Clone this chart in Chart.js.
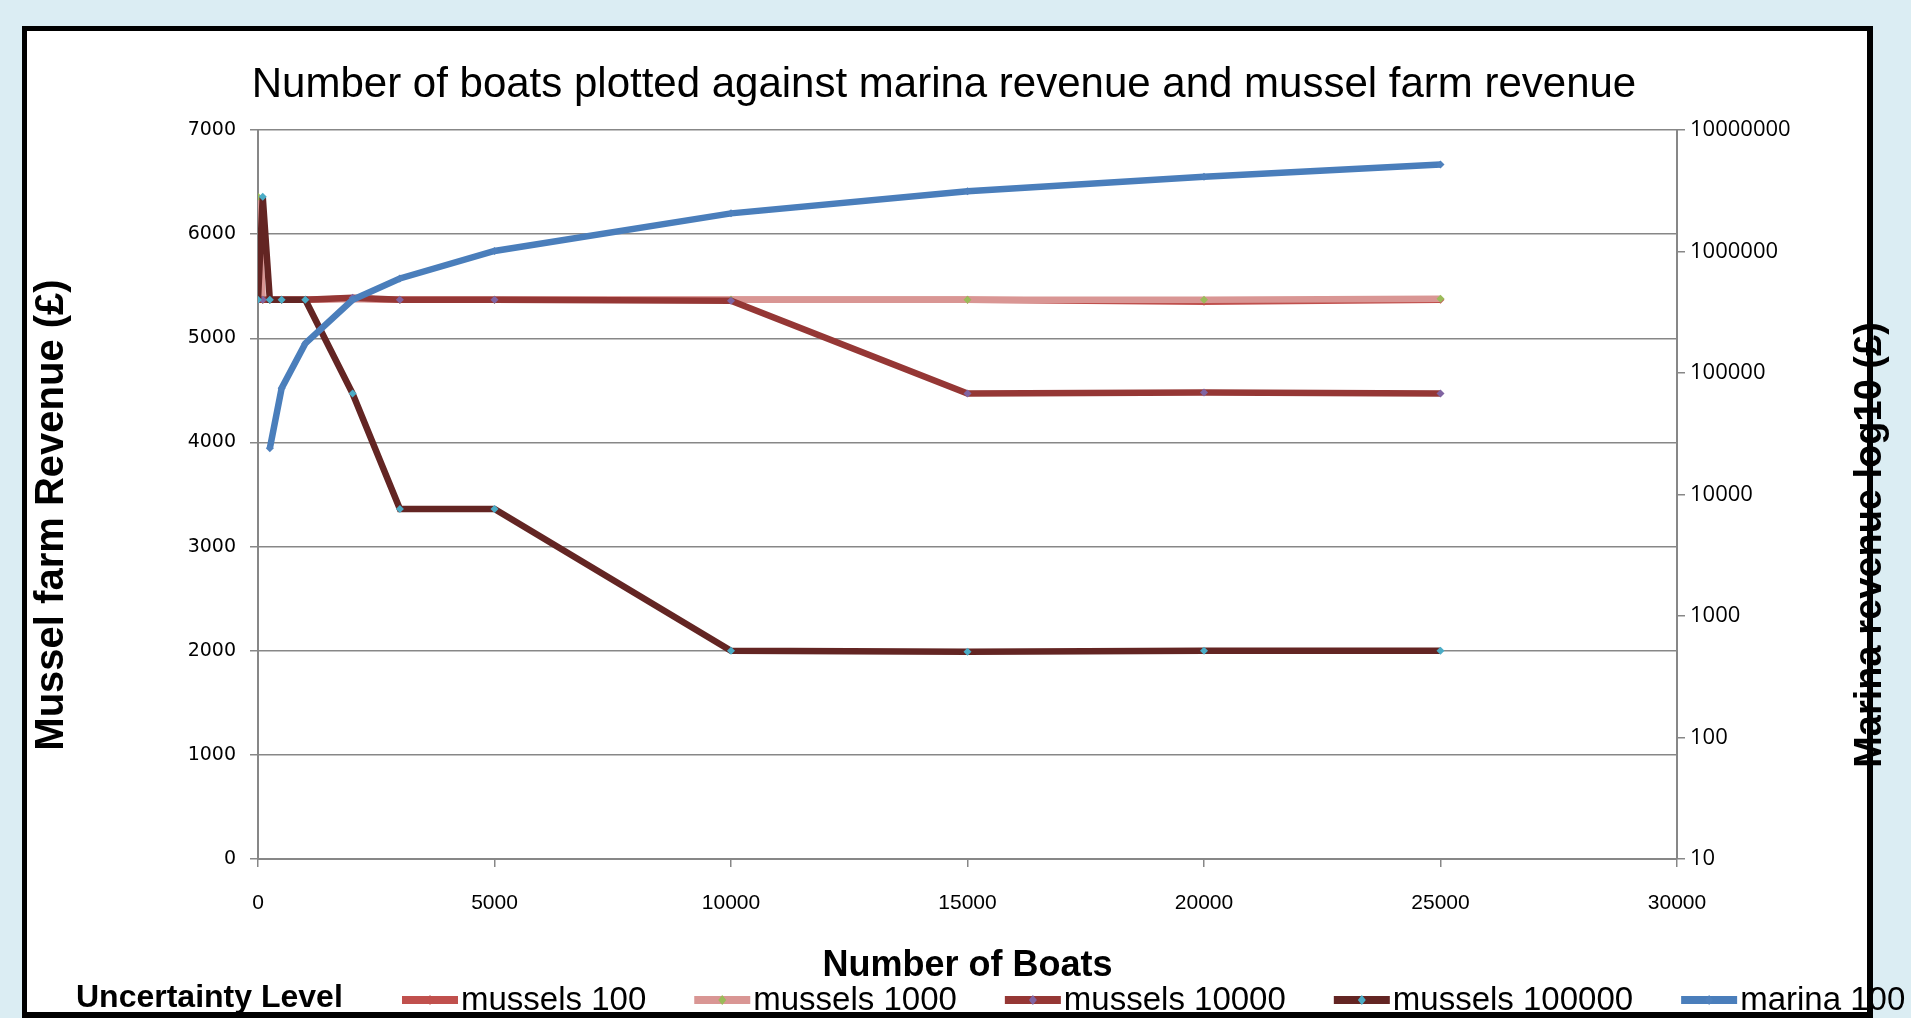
<!DOCTYPE html>
<html>
<head>
<meta charset="utf-8">
<script src="https://cdn.jsdelivr.net/npm/chart.js@4.4.1/dist/chart.umd.min.js"></script>
<style>
  html, body { margin: 0; padding: 0; overflow: hidden; background: #dbedf3; }
  canvas { display: block; }
</style>
</head>
<body>
<canvas id="boatChart" width="1911" height="1018"></canvas>
<script>
// ================= DATA =================
const chartTitle = "Number of boats plotted against marina revenue and mussel farm revenue";
const leftTitle = "Mussel farm Revenue (£)";
const rightTitle = "Marina revenue log10 (£)";
const xTitle = "Number of Boats";
const legendTitle = "Uncertainty Level";

const boats = [0, 100, 250, 500, 1000, 2000, 3000, 5000, 10000, 15000, 20000, 25000];

const mussels100 = [5370, 5370, 5370, 5370, 5370, 5380, 5370, 5370, 5370, 5370, 5350, 5370];
const mussels1000 = [6360, 5370, 5370, 5370, 5370, 5380, 5370, 5370, 5370, 5370, 5370, 5380];
const mussels10000 = [5370, 5370, 5370, 5370, 5370, 5390, 5370, 5370, 5360, 4470, 4480, 4470];
const mussels100000 = [5370, 6360, 5370, 5370, 5370, 4470, 3360, 3360, 2000, 1990, 2000, 2000];
const marina = [null, null, 24000, 75000, 175000, 400000, 600000, 1010000, 2060000, 3130000, 4130000, 5200000];

const seriesLabels = ["mussels 100", "mussels 1000", "mussels 10000", "mussels 100000", "marina 100"];
const lineColors = ["#C0504D", "#D99694", "#953735", "#632523", "#4A7EBB"];
const markerColors = ["#C0504D", "#9BBB59", "#8064A2", "#4BACC6", "#4F81BD"];

const marinaTicks = [10, 100, 1000, 10000, 100000, 1000000, 10000000];

// ================= HELPERS =================
function toPoints(values) {
  return boats.map((b, i) => ({ x: b, y: values[i] }));
}

function makeSet(i, values, axis) {
  return {
    label: seriesLabels[i],
    data: toPoints(values),
    yAxisID: axis,
    borderColor: lineColors[i],
    backgroundColor: lineColors[i],
    borderWidth: 6.5,
    pointStyle: "rectRot",
    pointRadius: 4,
    pointBackgroundColor: markerColors[i],
    pointBorderColor: markerColors[i],
    pointBorderWidth: 0,
    tension: 0,
    order: 5 - i
  };
}

const GRID = "#878787";

// ================= PLUGINS =================
const framePlugin = {
  id: "frame",
  beforeDraw(chart) {
    const ctx = chart.ctx;
    ctx.save();
    ctx.fillStyle = "#dbedf3";
    ctx.fillRect(0, 0, chart.width, chart.height);
    ctx.fillStyle = "#000";
    ctx.fillRect(22, 26, 1851, 1000);
    ctx.fillStyle = "#fff";
    ctx.fillRect(27, 31, 1840, 981);
    ctx.restore();
  }
};

const textPlugin = {
  id: "texts",
  afterDraw(chart) {
    const ctx = chart.ctx;
    ctx.save();
    ctx.fillStyle = "#000";

    // chart title
    ctx.font = "42px 'Liberation Sans'";
    ctx.textAlign = "center";
    ctx.textBaseline = "alphabetic";
    ctx.fillText(chartTitle, 944, 97);

    // vertical axis titles (both read bottom to top)
    ctx.font = "bold 40px 'Liberation Sans'";
    ctx.textBaseline = "middle";
    ctx.save();
    ctx.translate(52, 515);
    ctx.rotate(-Math.PI / 2);
    ctx.fillText(leftTitle, 0, 0);
    ctx.restore();

    ctx.font = "bold 38px 'Liberation Sans'";
    ctx.save();
    ctx.translate(1871, 545);
    ctx.rotate(-Math.PI / 2);
    ctx.fillText(rightTitle, 0, 0);
    ctx.restore();

    // legend
    ctx.textAlign = "left";
    ctx.textBaseline = "alphabetic";
    ctx.font = "bold 32px 'Liberation Sans'";
    ctx.fillText(legendTitle, 76, 1007);

    ctx.font = "33px 'Liberation Sans'";
    let x = 402;
    const y = 1000;
    chart.data.datasets.forEach((ds) => {
      ctx.strokeStyle = ds.borderColor;
      ctx.lineWidth = 8;
      ctx.beginPath();
      ctx.moveTo(x, y);
      ctx.lineTo(x + 56, y);
      ctx.stroke();
      ctx.fillStyle = ds.pointBackgroundColor;
      ctx.beginPath();
      ctx.moveTo(x + 28, y - 5);
      ctx.lineTo(x + 32, y);
      ctx.lineTo(x + 28, y + 5);
      ctx.lineTo(x + 24, y);
      ctx.closePath();
      ctx.fill();
      ctx.fillStyle = "#000";
      ctx.fillText(ds.label, x + 59, 1010);
      x += 59 + ctx.measureText(ds.label).width + 48;
    });
    ctx.restore();
  }
};

// ================= CHART =================
new Chart(document.getElementById("boatChart"), {
  type: "line",
  data: {
    datasets: [
      makeSet(0, mussels100, "y"),
      makeSet(1, mussels1000, "y"),
      makeSet(2, mussels10000, "y"),
      makeSet(3, mussels100000, "y"),
      makeSet(4, marina, "y2")
    ]
  },
  options: {
    responsive: false,
    animation: false,
    devicePixelRatio: 1,
    layout: { padding: { left: 22, right: 0, top: 130, bottom: 0 } },
    plugins: {
      legend: { display: false },
      title: { display: false },
      tooltip: { enabled: false }
    },
    scales: {
      x: {
        type: "linear",
        min: 0,
        max: 30000,
        afterFit: (s) => { s.height = 159; },
        ticks: {
          stepSize: 5000,
          maxRotation: 0,
          padding: 24,
          color: "#000",
          font: { family: "'Liberation Sans'", size: 21 },
          callback: (v) => String(v)
        },
        grid: { drawOnChartArea: false, drawTicks: true, tickLength: 8, color: GRID, lineWidth: 1.5 },
        border: { color: GRID, width: 2 },
        title: {
          display: true,
          text: xTitle,
          color: "#000",
          font: { family: "'Liberation Sans'", size: 36, weight: "bold" },
          padding: { top: 0, bottom: 30 }
        }
      },
      y: {
        type: "linear",
        position: "left",
        min: 0,
        max: 7000,
        afterFit: (s) => { s.width = 236; },
        ticks: {
          stepSize: 1000,
          padding: 14,
          color: "#000",
          font: { family: "'DejaVu Sans'", size: 19 },
          callback: (v) => String(v)
        },
        grid: { color: GRID, lineWidth: 1.5, tickLength: 8 },
        border: { color: GRID, width: 2 }
      },
      y2: {
        type: "logarithmic",
        position: "right",
        min: 10,
        max: 10000000,
        afterFit: (s) => { s.width = 234; },
        afterBuildTicks: (s) => { s.ticks = marinaTicks.map((v) => ({ value: v })); },
        ticks: {
          padding: 5,
          color: "#000",
          font: { family: "'Open Sans'", size: 22 },
          callback: (v) => String(v)
        },
        grid: { drawOnChartArea: false, color: GRID, lineWidth: 1.5, tickLength: 8 },
        border: { color: GRID, width: 2 }
      }
    }
  },
  plugins: [framePlugin, textPlugin]
});
</script>
</body>
</html>
